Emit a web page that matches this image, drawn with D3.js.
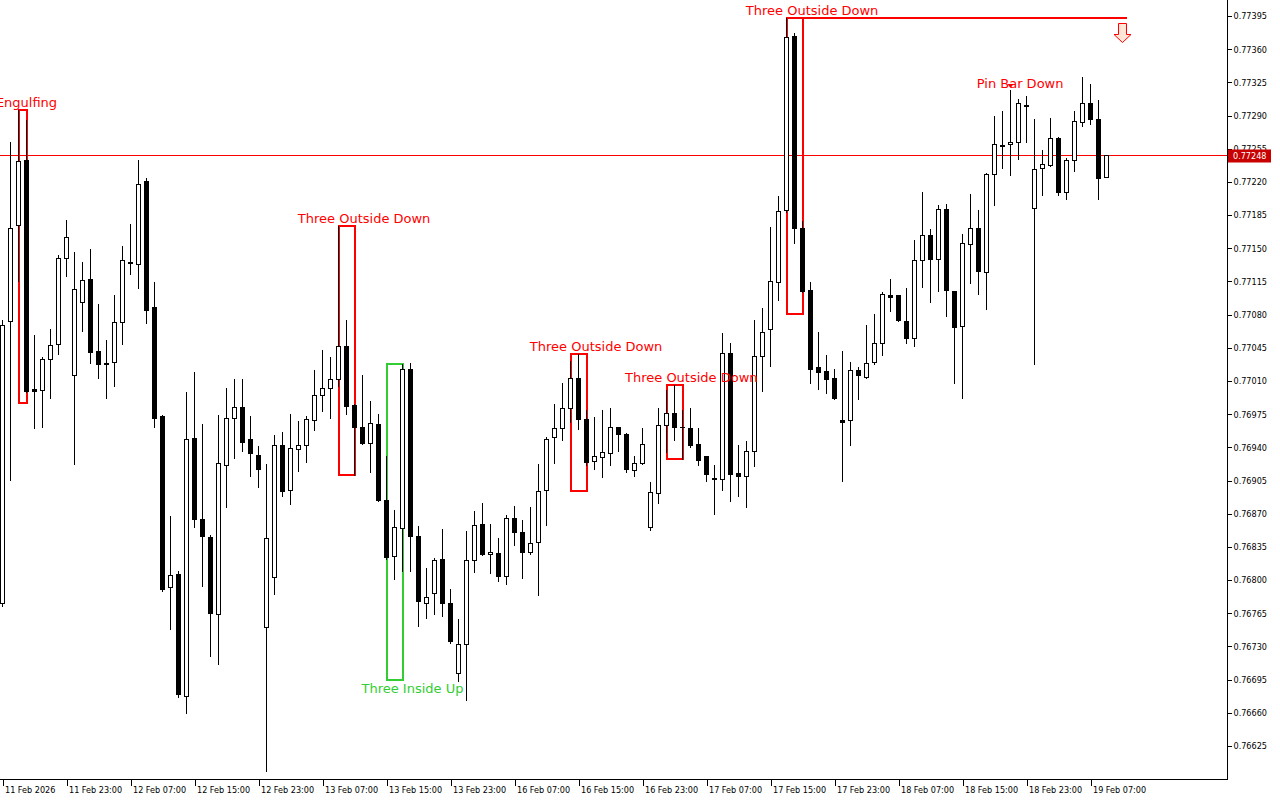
<!DOCTYPE html>
<html>
<head>
<meta charset="utf-8">
<script src="https://cdn.jsdelivr.net/npm/d3@7"></script>
<style>
  body { margin: 0; background: #fff; }
  svg { display: block; }
</style>
</head>
<body>
<div id="chart"></div>
<script>
// H1 candles, 11 Feb 15:00 .. 19 Feb 07:00
const open = [
  0.76776, 0.77073, 0.77175, 0.77243, 0.77002, 0.77000, 0.77033, 0.77049, 0.77140, 0.77016,
  0.77093, 0.77118, 0.77042, 0.77029, 0.77030, 0.77072, 0.77134, 0.77133, 0.77221, 0.77088,
  0.76973, 0.76793, 0.76806, 0.76678, 0.76950, 0.76864, 0.76845, 0.76764, 0.76921, 0.76971,
  0.76983, 0.76949, 0.76932, 0.76751, 0.76803, 0.76943, 0.76895, 0.76938, 0.76943, 0.76969,
  0.76995, 0.77003, 0.77012, 0.77047, 0.76985, 0.76962, 0.76945, 0.76965, 0.76884, 0.76825,
  0.76855, 0.77023, 0.76847, 0.76776, 0.76786, 0.76822, 0.76776, 0.76702, 0.76733, 0.76821,
  0.76859, 0.76827, 0.76829, 0.76804, 0.76866, 0.76851, 0.76830, 0.76840, 0.76895, 0.76951,
  0.76960, 0.76981, 0.77013, 0.76970, 0.76926, 0.76930, 0.76934, 0.76961, 0.76954, 0.76916,
  0.76923, 0.76856, 0.76892, 0.76964, 0.76976, 0.76962, 0.76960, 0.76944, 0.76931, 0.76908,
  0.76907, 0.77040, 0.76913, 0.76910, 0.76936, 0.77036, 0.77065, 0.77114, 0.77190, 0.77374,
  0.77171, 0.77106, 0.77025, 0.77021, 0.77013, 0.76969, 0.76969, 0.77022, 0.77014, 0.77030,
  0.77050, 0.77101, 0.77101, 0.77073, 0.77055, 0.77138, 0.77164, 0.77139, 0.77191, 0.77105,
  0.77068, 0.77155, 0.77171, 0.77125, 0.77228, 0.77258, 0.77260, 0.77262, 0.77301, 0.77192,
  0.77235, 0.77238, 0.77266, 0.77209, 0.77243, 0.77283, 0.77303, 0.77286, 0.77225
];
const high = [
  0.77074, 0.77262, 0.77296, 0.77285, 0.77058, 0.77035, 0.77065, 0.77143, 0.77180, 0.77146,
  0.77136, 0.77149, 0.77091, 0.77053, 0.77101, 0.77152, 0.77176, 0.77243, 0.77224, 0.77114,
  0.76974, 0.76868, 0.76810, 0.76998, 0.77019, 0.76965, 0.76848, 0.76974, 0.77003, 0.77012,
  0.77012, 0.76973, 0.76941, 0.76922, 0.76953, 0.76956, 0.76975, 0.76968, 0.76973, 0.77022,
  0.77043, 0.77035, 0.77173, 0.77074, 0.76986, 0.77016, 0.76989, 0.76975, 0.76931, 0.76874,
  0.77028, 0.77029, 0.76857, 0.76813, 0.76823, 0.76854, 0.76791, 0.76759, 0.76852, 0.76873,
  0.76881, 0.76859, 0.76844, 0.76869, 0.76878, 0.76863, 0.76877, 0.76922, 0.76951, 0.76986,
  0.77008, 0.77031, 0.77038, 0.76979, 0.76972, 0.76979, 0.76981, 0.76962, 0.76955, 0.76931,
  0.76960, 0.76903, 0.76981, 0.77000, 0.77006, 0.76979, 0.76982, 0.76960, 0.76931, 0.76921,
  0.77061, 0.77050, 0.76943, 0.76947, 0.77074, 0.77087, 0.77172, 0.77205, 0.77393, 0.77377,
  0.77179, 0.77114, 0.77062, 0.77037, 0.77023, 0.77042, 0.77030, 0.77025, 0.77069, 0.77081,
  0.77104, 0.77118, 0.77101, 0.77108, 0.77159, 0.77209, 0.77170, 0.77196, 0.77197, 0.77105,
  0.77165, 0.77207, 0.77190, 0.77229, 0.77290, 0.77295, 0.77317, 0.77307, 0.77311, 0.77286,
  0.77254, 0.77287, 0.77267, 0.77245, 0.77295, 0.77331, 0.77323, 0.77306, 0.77248
];
const low = [
  0.76773, 0.76906, 0.77115, 0.76998, 0.76960, 0.76961, 0.76992, 0.77039, 0.77121, 0.76922,
  0.77063, 0.77029, 0.77013, 0.76992, 0.77005, 0.77049, 0.77123, 0.77108, 0.77071, 0.76962,
  0.76789, 0.76748, 0.76677, 0.76660, 0.76856, 0.76794, 0.76720, 0.76711, 0.76877, 0.76929,
  0.76936, 0.76910, 0.76898, 0.76599, 0.76785, 0.76889, 0.76880, 0.76915, 0.76925, 0.76958,
  0.76978, 0.76971, 0.77005, 0.76975, 0.76911, 0.76944, 0.76914, 0.76883, 0.76822, 0.76801,
  0.76810, 0.76810, 0.76752, 0.76760, 0.76764, 0.76762, 0.76734, 0.76694, 0.76673, 0.76809,
  0.76826, 0.76808, 0.76799, 0.76796, 0.76837, 0.76802, 0.76828, 0.76784, 0.76858, 0.76923,
  0.76948, 0.76967, 0.76959, 0.76921, 0.76917, 0.76909, 0.76921, 0.76936, 0.76914, 0.76910,
  0.76922, 0.76853, 0.76881, 0.76935, 0.76948, 0.76928, 0.76940, 0.76921, 0.76905, 0.76870,
  0.76895, 0.76883, 0.76889, 0.76877, 0.76920, 0.76999, 0.77026, 0.77095, 0.77188, 0.77156,
  0.77104, 0.77008, 0.77002, 0.76997, 0.76991, 0.76904, 0.76942, 0.76991, 0.77013, 0.77028,
  0.77037, 0.77084, 0.77073, 0.77050, 0.77047, 0.77109, 0.77093, 0.77105, 0.77079, 0.77008,
  0.76992, 0.77113, 0.77102, 0.77086, 0.77196, 0.77235, 0.77227, 0.77244, 0.77262, 0.77028,
  0.77206, 0.77237, 0.77206, 0.77202, 0.77231, 0.77279, 0.77281, 0.77202, 0.77225
];
const close = [
  0.77069, 0.77171, 0.77242, 0.76999, 0.76999, 0.77033, 0.77048, 0.77140, 0.77162, 0.77107,
  0.77117, 0.77041, 0.77028, 0.77028, 0.77072, 0.77138, 0.77135, 0.77218, 0.77085, 0.76971,
  0.76791, 0.76805, 0.76680, 0.76949, 0.76864, 0.76846, 0.76765, 0.76923, 0.76971, 0.76983,
  0.76946, 0.76934, 0.76917, 0.76844, 0.76943, 0.76894, 0.76939, 0.76943, 0.76970, 0.76995,
  0.77003, 0.77012, 0.77047, 0.76984, 0.76961, 0.76945, 0.76966, 0.76884, 0.76824, 0.76856,
  0.77023, 0.76847, 0.76778, 0.76782, 0.76821, 0.76776, 0.76736, 0.76733, 0.76821, 0.76858,
  0.76828, 0.76830, 0.76804, 0.76865, 0.76851, 0.76830, 0.76839, 0.76894, 0.76949, 0.76960,
  0.76982, 0.77013, 0.76970, 0.76925, 0.76931, 0.76935, 0.76961, 0.76954, 0.76917, 0.76923,
  0.76944, 0.76893, 0.76964, 0.76976, 0.76961, 0.76961, 0.76943, 0.76927, 0.76912, 0.76907,
  0.77040, 0.76912, 0.76910, 0.76936, 0.77036, 0.77062, 0.77116, 0.77189, 0.77373, 0.77171,
  0.77105, 0.77023, 0.77019, 0.77012, 0.76992, 0.76967, 0.77022, 0.77016, 0.77029, 0.77050,
  0.77102, 0.77099, 0.77074, 0.77055, 0.77138, 0.77164, 0.77139, 0.77191, 0.77106, 0.77067,
  0.77156, 0.77171, 0.77126, 0.77228, 0.77260, 0.77259, 0.77262, 0.77303, 0.77300, 0.77234,
  0.77239, 0.77266, 0.77209, 0.77243, 0.77284, 0.77303, 0.77286, 0.77224, 0.77248
];

// time axis labels, one every 8 bars
const timeLabels = [
  "11 Feb 2026", "11 Feb 23:00", "12 Feb 07:00", "12 Feb 15:00", "12 Feb 23:00",
  "13 Feb 07:00", "13 Feb 15:00", "13 Feb 23:00", "16 Feb 07:00", "16 Feb 15:00",
  "16 Feb 23:00", "17 Feb 07:00", "17 Feb 15:00", "17 Feb 23:00", "18 Feb 07:00",
  "18 Feb 15:00", "18 Feb 23:00", "19 Feb 07:00"
];
const priceTicks = [
  0.76625, 0.76660, 0.76695, 0.76730, 0.76765, 0.76800, 0.76835, 0.76870, 0.76905, 0.76940,
  0.76975, 0.77010, 0.77045, 0.77080, 0.77115, 0.77150, 0.77185, 0.77220, 0.77255, 0.77290,
  0.77325, 0.77360, 0.77395
];
const lastPrice = 0.77248;

// detected patterns (bar indexes, price box, where the label sits)
const patterns = [
  { name: "Engulfing", first: 2, last: 3, top: 0.77296, bottom: 0.76987, labelAt: 3.0, side: "top", color: "#ff0000" },
  { name: "Three Outside Down", first: 42, last: 44, top: 0.77173, bottom: 0.76911, labelAt: 45.2, side: "top", color: "#ff0000" },
  { name: "Three Inside Up", first: 48, last: 50, top: 0.77028, bottom: 0.76695, labelAt: 51.25, side: "bottom", color: "#32cd32" },
  { name: "Three Outside Down", first: 71, last: 73, top: 0.77038, bottom: 0.76894, labelAt: 74.2, side: "top", color: "#ff0000" },
  { name: "Three Outside Down", first: 83, last: 85, top: 0.77006, bottom: 0.76928, labelAt: 86.1, side: "top", color: "#ff0000" },
  { name: "Three Outside Down", first: 98, last: 100, top: 0.77393, bottom: 0.77081, labelAt: 101.2, side: "top", color: "#ff0000" }
];
const pinBar = { name: "Pin Bar Down", bar: 126, labelAt: 127.2 };
const signalLine = { from: 98, to: 140.6, price: 0.77393 };
const signalArrow = { at: 140, price: 0.77388 };

const W = 1280, H = 800;
const plotRight = 1227, plotBottom = 779;

const svg = d3.select("#chart").append("svg")
  .attr("width", W)
  .attr("height", H)
  .style("background", "#fff");

// 8 px per bar
const x = d3.scaleLinear().domain([0, 153]).range([2.5, 2.5 + 8 * 153]);
const y = d3.scaleLinear().domain([0.76625, 0.77395]).range([746, 16]);
const py = v => Math.round(y(v));

const plot = svg.append("g");

// current price line
plot.append("rect")
  .attr("x", 0).attr("width", plotRight)
  .attr("y", py(lastPrice)).attr("height", 1)
  .attr("fill", "#ff0000")
  .attr("shape-rendering", "crispEdges");

// pattern boxes
plot.selectAll("rect.pattern").data(patterns).join("rect")
  .attr("class", "pattern")
  .attr("x", d => x(d.first))
  .attr("y", d => py(d.top))
  .attr("width", d => x(d.last) - x(d.first))
  .attr("height", d => py(d.bottom) - py(d.top))
  .attr("fill", "none")
  .attr("stroke", d => d.color)
  .attr("stroke-width", 2)
  .attr("shape-rendering", "crispEdges");

// signal line + arrow
plot.append("line")
  .attr("x1", x(signalLine.from)).attr("x2", x(signalLine.to))
  .attr("y1", py(signalLine.price)).attr("y2", py(signalLine.price))
  .attr("stroke", "#ff0000").attr("stroke-width", 2)
  .attr("shape-rendering", "crispEdges");

const ax = x(signalArrow.at), at = py(signalArrow.price) + 0.5;
plot.append("path")
  .attr("d", `M${ax - 4},${at} L${ax + 4},${at} L${ax + 4},${at + 11} L${ax + 8.5},${at + 11} L${ax},${at + 19} L${ax - 8.5},${at + 11} L${ax - 4},${at + 11} Z`)
  .attr("fill", "#ffe6d6")
  .attr("stroke", "#ff0000")
  .attr("stroke-width", 1);

// candles
const candles = open.map((o, i) => ({ i, o, h: high[i], l: low[i], c: close[i] }));
const cg = plot.append("g").attr("shape-rendering", "crispEdges");

cg.selectAll("line.wick").data(candles).join("line")
  .attr("class", "wick")
  .attr("x1", d => x(d.i)).attr("x2", d => x(d.i))
  .attr("y1", d => py(d.h)).attr("y2", d => py(d.l) + 1)
  .attr("stroke", "#000");

cg.selectAll("rect.body").data(candles).join("rect")
  .attr("class", "body")
  .each(function (d) {
    const top = py(Math.max(d.o, d.c)), bot = py(Math.min(d.o, d.c));
    const sel = d3.select(this);
    if (d.c > d.o && bot > top) {
      sel.attr("x", x(d.i) - 2).attr("y", top + 0.5)
        .attr("width", 4).attr("height", bot - top)
        .attr("fill", "#fff").attr("stroke", "#000");
    } else {
      sel.attr("x", x(d.i) - 2.5).attr("y", top)
        .attr("width", 5).attr("height", Math.max(1, bot - top + 1))
        .attr("fill", "#000");
    }
  });

// pattern labels
const labelFont = "'DejaVu Sans', Verdana, sans-serif";
plot.selectAll("text.plabel").data(patterns).join("text")
  .attr("class", "plabel")
  .attr("x", d => x(d.labelAt))
  .attr("y", d => d.side === "top" ? py(d.top) - 8 : py(d.bottom) + 8)
  .attr("text-anchor", "middle")
  .attr("dominant-baseline", "central")
  .attr("font-family", labelFont)
  .attr("font-size", 13)
  .attr("fill", d => d.color)
  .text(d => d.name);

// pin bar marker and label
const pbx = x(pinBar.bar), pbTop = py(high[pinBar.bar]);
plot.append("path")
  .attr("d", `M${pbx - 3},${pbTop - 6} L${pbx + 3},${pbTop - 6} L${pbx},${pbTop - 2} Z`)
  .attr("fill", "#ff0000");
plot.append("text")
  .attr("x", x(pinBar.labelAt))
  .attr("y", pbTop - 7)
  .attr("text-anchor", "middle")
  .attr("dominant-baseline", "central")
  .attr("font-family", labelFont)
  .attr("font-size", 13)
  .attr("fill", "#ff0000")
  .text(pinBar.name);

// axes
const axisFont = "'DejaVu Sans Condensed', 'Liberation Sans', Arial, sans-serif";

const yAxis = svg.append("g")
  .attr("transform", `translate(${plotRight + 0.5},0)`)
  .call(d3.axisRight(y).tickValues(priceTicks).tickFormat(d3.format(".5f")).tickSize(4).tickPadding(2));
yAxis.select(".domain").remove();
yAxis.selectAll("text").attr("font-family", axisFont).attr("font-size", 9).attr("fill", "#000");
yAxis.selectAll("line").attr("stroke", "#000").attr("shape-rendering", "crispEdges");

const tickIdx = timeLabels.map((_, k) => k * 8);
const xAxis = svg.append("g")
  .attr("transform", `translate(0,${plotBottom + 0.5})`)
  .call(d3.axisBottom(x).tickValues(tickIdx).tickFormat((d, k) => timeLabels[k]).tickSize(6).tickPadding(1));
xAxis.select(".domain").remove();
xAxis.selectAll("text")
  .attr("text-anchor", "start")
  .attr("dx", 2)
  .attr("font-family", axisFont).attr("font-size", 9).attr("fill", "#000");
xAxis.selectAll("line").attr("stroke", "#000").attr("shape-rendering", "crispEdges");

// frame lines
svg.append("line")
  .attr("x1", plotRight + 0.5).attr("x2", plotRight + 0.5)
  .attr("y1", 0).attr("y2", plotBottom + 1)
  .attr("stroke", "#000").attr("shape-rendering", "crispEdges");
svg.append("line")
  .attr("x1", 0).attr("x2", plotRight + 1)
  .attr("y1", plotBottom + 0.5).attr("y2", plotBottom + 0.5)
  .attr("stroke", "#000").attr("shape-rendering", "crispEdges");

// last price tag
const tagY = py(lastPrice) + 0.5;
svg.append("rect")
  .attr("x", plotRight + 1).attr("y", tagY - 6)
  .attr("width", 43).attr("height", 13)
  .attr("fill", "#c80000");
svg.append("text")
  .attr("x", plotRight + 6).attr("y", tagY + 0.5)
  .attr("dy", "0.32em")
  .attr("font-family", axisFont).attr("font-size", 9)
  .attr("fill", "#fff")
  .text(d3.format(".5f")(lastPrice));
</script>
</body>
</html>
